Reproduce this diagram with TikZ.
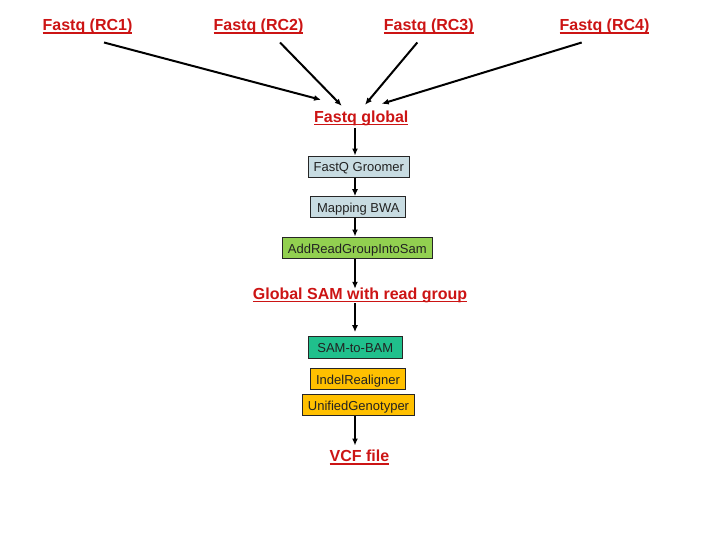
\documentclass[tikz,border=0pt]{standalone}
\usepackage{fontspec}
\setmainfont{Liberation Sans}
\usetikzlibrary{arrows.meta,calc}
\definecolor{lblred}{HTML}{CC1414}
\definecolor{grey1}{HTML}{C8DCE2}
\definecolor{green1}{HTML}{92D050}
\definecolor{teal1}{HTML}{20C08C}
\definecolor{orange1}{HTML}{FFC000}
\definecolor{txtdark}{HTML}{222222}
\newcommand\myul[1]{\setbox0=\hbox{#1}\rlap{\rule[-2.9pt]{\wd0}{1.4pt}}\box0}
\begin{document}
\begin{tikzpicture}[x=1pt,y=-1pt,
  lbl/.style={inner sep=0pt, anchor=base, text=lblred, font=\fontsize{16}{18}\selectfont\bfseries, text height=12pt, text depth=4pt},
  box/.style={draw=black!85, line width=1pt, inner sep=0pt, text=txtdark, font=\fontsize{13}{15}\selectfont, text height=10.6pt, text depth=0pt},
  arr/.style={draw=black, line width=2pt, -{Latex[length=7pt,width=6pt]}}]
\useasboundingbox (0,0) rectangle (720,540);
\coordinate (ax) at (355,0);
% labels
\node[lbl] (rc1) at (87.5,30.7) {\myul{Fastq (RC1)}};
\node[lbl] (rc2) at (258.5,30.7) {\myul{Fastq (RC2)}};
\node[lbl] (rc3) at (428.8,30.7) {\myul{Fastq (RC3)}};
\node[lbl] (rc4) at (604.5,30.7) {\myul{Fastq (RC4)}};
\node[lbl] (glob) at (361.3,122.3) {\myul{Fastq global}};
\node[lbl] (gsam) at (360,299) {\myul{Global SAM with read group}};
\node[lbl] (vcf) at (359.5,461.7) {\myul{VCF file}};
% boxes
\node[box, fill=grey1, minimum width=101pt, minimum height=21.3pt] (groom) at (358.8,166.7) {FastQ Groomer};
\node[box, fill=grey1, minimum width=94.7pt, minimum height=20.6pt] (bwa) at (358.3,207) {Mapping BWA};
\node[box, fill=green1, minimum width=150pt, minimum height=21.3pt] (add) at (357.3,247.7) {AddReadGroupIntoSam};
\node[box, fill=teal1, minimum width=94pt, minimum height=21.6pt] (s2b) at (355.3,347.5) {SAM-to-BAM};
\node[box, fill=orange1, minimum width=95.4pt, minimum height=21pt] (indel) at (358,378.8) {IndelRealigner};
\node[box, fill=orange1, minimum width=112.4pt, minimum height=21.4pt] (uni) at (358.5,405) {UnifiedGenotyper};
% top arrows
\draw[arr] ($(rc1.south)+(16.5,7.6)$) -- ($(glob.north)+(-40.3,-10.3)$);
\draw[arr] ($(rc2.south)+(21.5,7.6)$) -- ($(glob.north)+(-19.6,-4.3)$);
\draw[arr] ($(rc3.south)+(-11.5,7.6)$) -- ($(glob.north)+(3.7,-5.3)$);
\draw[arr] ($(rc4.south)+(-22.8,7.6)$) -- ($(glob.north)+(20.4,-6.3)$);
% vertical arrows
\draw[arr, shorten <=1.7pt] (glob.south -| ax) -- (groom.north -| ax);
\draw[arr] (groom.south -| ax) -- (bwa.north -| ax);
\draw[arr] (bwa.south -| ax) -- (add.north -| ax);
\draw[arr, shorten >=-2pt] (add.south -| ax) -- (gsam.north -| ax);
\draw[arr, shorten >=4pt] (gsam.south -| ax) -- (s2b.north -| ax);
\draw[arr, shorten >=4pt] (uni.south -| ax) -- (vcf.north -| ax);
\end{tikzpicture}
\end{document}
